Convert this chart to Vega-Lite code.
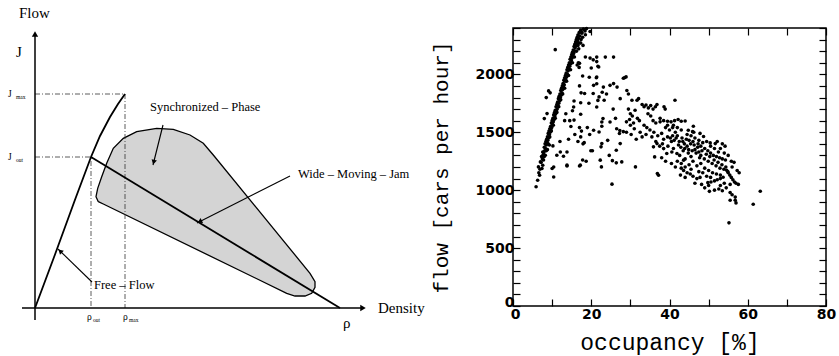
{
"$schema": "https://vega.github.io/schema/vega-lite/v6.json",
"padding": {"left": 8, "top": 5, "right": 2, "bottom": 2},
"background": "white",
"spacing": 98,
"bounds": "flush",
"config": {"view": {"stroke": null}, "font": "Liberation Serif"},
"datasets": {
"axesLines": [{"seg":"y","i":0,"u":0,"v":-12},{"seg":"y","i":1,"u":0,"v":272},{"seg":"x","i":0,"u":-13,"v":0},{"seg":"x","i":1,"u":326,"v":0}],
"guides": [{"seg":"jmax","i":0,"u":0,"v":214},{"seg":"jmax","i":1,"u":90,"v":214},{"seg":"jmax","i":2,"u":90,"v":0},{"seg":"jout","i":0,"u":0,"v":151},{"seg":"jout","i":1,"u":56,"v":151},{"seg":"jout","i":2,"u":56,"v":0}],
"curves": [{"seg":"free","i":0,"u":0,"v":0},{"seg":"free","i":1,"u":20,"v":53.5},{"seg":"free","i":2,"u":40,"v":108.3},{"seg":"free","i":3,"u":56,"v":151},{"seg":"free","i":4,"u":65,"v":172},{"seg":"free","i":5,"u":75,"v":191},{"seg":"free","i":6,"u":83,"v":204},{"seg":"free","i":7,"u":90,"v":214},{"seg":"jam","i":0,"u":56,"v":151},{"seg":"jam","i":1,"u":305,"v":0}],
"blob": [{"i":0,"u":63.3,"v":106.3},{"i":1,"u":61,"v":111.3},{"i":2,"u":62.7,"v":119.7},{"i":3,"u":66.7,"v":131.3},{"i":4,"u":71.7,"v":144.7},{"i":5,"u":78.3,"v":159.7},{"i":6,"u":88.3,"v":169.7},{"i":7,"u":101.7,"v":176.3},{"i":8,"u":121.7,"v":179.7},{"i":9,"u":138.3,"v":178.7},{"i":10,"u":155,"v":173},{"i":11,"u":168.3,"v":164.7},{"i":12,"u":178.3,"v":153},{"i":13,"u":275,"v":34.7},{"i":14,"u":280,"v":26.3},{"i":15,"u":280,"v":20.7},{"i":16,"u":276.7,"v":14.7},{"i":17,"u":270,"v":12},{"i":18,"u":260,"v":12},{"i":19,"u":251.7,"v":14.7},{"i":20,"u":68.3,"v":104},{"i":21,"u":63.3,"v":106.3}],
"arrows": [{"seg":"sync","i":0,"u":128,"v":183},{"seg":"sync","i":1,"u":118,"v":143},{"seg":"jam","i":0,"u":255,"v":132},{"seg":"jam","i":1,"u":162,"v":85},{"seg":"free","i":0,"u":57,"v":26},{"seg":"free","i":1,"u":23,"v":59}],
"heads": [{"name":"sync","u":118.7,"v":145.9},{"name":"jam","u":164.7,"v":86.4},{"name":"free","u":25.2,"v":56.9},{"name":"yaxis","u":0,"v":274},{"name":"xaxis","u":328,"v":0}],
"traffic": [
{"occ":5.9,"flow":1030},{"occ":6.3,"flow":1086},{"occ":6.8,"flow":1129},{"occ":6.5,"flow":1201},{"occ":7.0,"flow":1244},{"occ":7.4,"flow":1187},{"occ":8.25,"flow":1302},{"occ":7.2,"flow":1240},{"occ":7.5,"flow":1270},{"occ":6.9,"flow":1180},{"occ":7.7,"flow":1300},{"occ":7.9,"flow":1330},{"occ":7.3,"flow":1290},{"occ":6.6,"flow":1150},{"occ":7.6,"flow":1215},{"occ":7.8,"flow":1260},{"occ":8.0,"flow":1290},
{"occ":7.6,"flow":1330},{"occ":7.8,"flow":1310},{"occ":8.0,"flow":1370},{"occ":8.1,"flow":1340},{"occ":8.2,"flow":1400},{"occ":8.3,"flow":1360},{"occ":8.4,"flow":1420},{"occ":8.5,"flow":1390},{"occ":8.6,"flow":1440},{"occ":8.7,"flow":1410},{"occ":8.8,"flow":1460},{"occ":8.9,"flow":1430},{"occ":9.0,"flow":1490},{"occ":9.1,"flow":1450},{"occ":9.2,"flow":1510},{"occ":9.3,"flow":1480},{"occ":9.4,"flow":1530},{"occ":9.5,"flow":1500},{"occ":9.6,"flow":1550},{"occ":9.7,"flow":1520},{"occ":9.8,"flow":1580},{"occ":9.9,"flow":1540},{"occ":10.0,"flow":1600},{"occ":10.1,"flow":1570},{"occ":10.2,"flow":1620},{"occ":10.3,"flow":1590},{"occ":10.4,"flow":1650},{"occ":10.5,"flow":1610},{"occ":10.6,"flow":1670},{"occ":10.7,"flow":1640},{"occ":10.8,"flow":1690},{"occ":10.9,"flow":1660},{"occ":11.0,"flow":1720},{"occ":11.1,"flow":1680},{"occ":11.2,"flow":1740},{"occ":11.3,"flow":1700},{"occ":11.4,"flow":1760},{"occ":11.5,"flow":1730},{"occ":11.6,"flow":1790},{"occ":11.7,"flow":1750},{"occ":11.8,"flow":1810},{"occ":11.9,"flow":1770},{"occ":12.0,"flow":1830},{"occ":12.1,"flow":1800},{"occ":12.2,"flow":1860},{"occ":12.3,"flow":1820},{"occ":12.4,"flow":1880},{"occ":12.5,"flow":1840},{"occ":12.6,"flow":1900},{"occ":12.7,"flow":1870},{"occ":12.8,"flow":1920},{"occ":12.9,"flow":1890},{"occ":13.0,"flow":1950},{"occ":13.1,"flow":1910},{"occ":13.2,"flow":1970},{"occ":13.3,"flow":1940},{"occ":13.4,"flow":1990},{"occ":13.5,"flow":1960},{"occ":13.6,"flow":2010},{"occ":13.7,"flow":1980},{"occ":13.8,"flow":2040},{"occ":13.9,"flow":2000},{"occ":14.0,"flow":2060},{"occ":14.1,"flow":2030},{"occ":14.2,"flow":2080},{"occ":14.3,"flow":2050},{"occ":14.4,"flow":2100},{"occ":14.5,"flow":2070},{"occ":14.6,"flow":2130},{"occ":14.7,"flow":2090},{"occ":14.8,"flow":2150},{"occ":14.9,"flow":2120},{"occ":15.0,"flow":2170},{"occ":15.1,"flow":2140},{"occ":15.2,"flow":2190},{"occ":15.3,"flow":2160},{"occ":15.4,"flow":2210},{"occ":15.5,"flow":2180},{"occ":15.6,"flow":2240},{"occ":15.7,"flow":2200},{"occ":15.8,"flow":2260},{"occ":15.9,"flow":2230},{"occ":16.0,"flow":2280},{"occ":16.1,"flow":2250},{"occ":16.2,"flow":2300},{"occ":16.3,"flow":2270},{"occ":16.4,"flow":2320},{"occ":16.5,"flow":2290},{"occ":16.6,"flow":2340},{"occ":16.7,"flow":2310},{"occ":16.9,"flow":2360},{"occ":17.1,"flow":2330},{"occ":17.3,"flow":2380},{"occ":17.6,"flow":2360},{"occ":18.0,"flow":2390},{"occ":18.4,"flow":2375},{"occ":18.8,"flow":2395},
{"occ":8.5,"flow":1340},{"occ":9.0,"flow":1400},{"occ":9.4,"flow":1460},{"occ":9.8,"flow":1510},{"occ":10.3,"flow":1560},{"occ":10.8,"flow":1620},{"occ":11.2,"flow":1670},{"occ":11.7,"flow":1720},{"occ":12.2,"flow":1780},{"occ":12.7,"flow":1830},{"occ":13.2,"flow":1880},{"occ":13.7,"flow":1940},{"occ":14.2,"flow":1990},{"occ":14.7,"flow":2040},{"occ":15.2,"flow":2100},{"occ":15.7,"flow":2150},{"occ":16.2,"flow":2200},{"occ":16.6,"flow":2250},{"occ":17.0,"flow":2270},{"occ":16.8,"flow":2220},{"occ":17.4,"flow":2300},{"occ":17.8,"flow":2320},{"occ":8.8,"flow":1350},{"occ":9.3,"flow":1390},
{"occ":8.0,"flow":1618},{"occ":8.7,"flow":1661},{"occ":9.1,"flow":1857},{"occ":9.5,"flow":1840},{"occ":8.5,"flow":1799},{"occ":10.2,"flow":1382},{"occ":10.8,"flow":2213},{"occ":10.4,"flow":1200},{"occ":10.0,"flow":1187},{"occ":10.4,"flow":1114},{"occ":11.2,"flow":1302},{"occ":12.1,"flow":1330},{"occ":12.9,"flow":1293},{"occ":13.8,"flow":1330},{"occ":13.8,"flow":1209},{"occ":17.0,"flow":1209},{"occ":18.7,"flow":1250},{"occ":19.9,"flow":1340},
{"occ":17.6,"flow":2356},{"occ":18.5,"flow":2342},{"occ":19.7,"flow":2370},{"occ":17.3,"flow":2270},{"occ":17.9,"flow":2250},{"occ":16.7,"flow":2100},{"occ":16.4,"flow":2080},{"occ":17.0,"flow":2095},{"occ":16.9,"flow":2060},{"occ":18.5,"flow":2150},{"occ":19.7,"flow":2140},{"occ":20.5,"flow":2125},{"occ":21.4,"flow":2110},{"occ":20.0,"flow":2055},{"occ":21.7,"flow":2070},{"occ":17.8,"flow":1985},{"occ":19.5,"flow":1975},{"occ":21.3,"flow":1970},{"occ":17.0,"flow":1900},{"occ":17.4,"flow":1840},{"occ":18.3,"flow":1835},{"occ":20.5,"flow":1835},{"occ":15.6,"flow":1770},{"occ":17.3,"flow":1755},{"occ":19.4,"flow":1750},{"occ":15.2,"flow":1685},{"occ":17.3,"flow":1655},{"occ":14.5,"flow":1600},{"occ":15.6,"flow":1605},{"occ":13.2,"flow":1600},{"occ":17.0,"flow":1540},{"occ":17.5,"flow":1510},{"occ":17.3,"flow":1460},{"occ":13.5,"flow":1660},{"occ":15.5,"flow":1718},{"occ":14.8,"flow":1550},{"occ":15.8,"flow":1480},{"occ":16.6,"flow":1420},{"occ":17.9,"flow":1400},{"occ":18.2,"flow":1410},{"occ":17.2,"flow":1216},{"occ":17.8,"flow":1260},{"occ":13.8,"flow":1216},{"occ":12.0,"flow":1420},{"occ":14.2,"flow":1440},
{"occ":21.4,"flow":2149},{"occ":23.6,"flow":2149},{"occ":25.7,"flow":2149},{"occ":21.9,"flow":2063},{"occ":21.4,"flow":1977},{"occ":28.5,"flow":1971},{"occ":28.9,"flow":1978},{"occ":28.2,"flow":1966},{"occ":21.4,"flow":1919},{"occ":23.1,"flow":1890},{"occ":24.8,"flow":1905},{"occ":25.7,"flow":1920},{"occ":26.6,"flow":1890},{"occ":22.8,"flow":1845},{"occ":23.9,"flow":1830},{"occ":22.0,"flow":1805},{"occ":21.7,"flow":1775},{"occ":27.4,"flow":1790},{"occ":29.1,"flow":1860},{"occ":29.5,"flow":1830},{"occ":22.7,"flow":1588},{"occ":24.8,"flow":1588},{"occ":22.0,"flow":1502},{"occ":24.2,"flow":1430},{"occ":26.5,"flow":1530},{"occ":27.3,"flow":1515},{"occ":28.2,"flow":1505},{"occ":29.0,"flow":1500},{"occ":22.5,"flow":1374},{"occ":22.7,"flow":1402},{"occ":22.3,"flow":1259},{"occ":22.6,"flow":1201},{"occ":25.3,"flow":1052},{"occ":26.4,"flow":1345},{"occ":26.4,"flow":1236},{"occ":27.4,"flow":1402},{"occ":27.2,"flow":1489},{"occ":20.6,"flow":1517},{"occ":22.7,"flow":1552},{"occ":23.0,"flow":1618},{"occ":31.3,"flow":1201},{"occ":27.8,"flow":1244},{"occ":19.0,"flow":1540},{"occ":19.6,"flow":1480},{"occ":20.3,"flow":1340},{"occ":24.6,"flow":1300},{"occ":25.4,"flow":1255},{"occ":20.6,"flow":1905},{"occ":23.3,"flow":1776},{"occ":21.4,"flow":1718},{"occ":25.6,"flow":1700},{"occ":26.2,"flow":1620},
{"occ":30.4,"flow":1776},{"occ":31.7,"flow":1776},{"occ":32.1,"flow":1790},{"occ":33.0,"flow":1740},{"occ":33.5,"flow":1720},{"occ":34.0,"flow":1735},{"occ":34.6,"flow":1710},{"occ":35.2,"flow":1730},{"occ":35.8,"flow":1700},{"occ":36.4,"flow":1720},{"occ":36.8,"flow":1740},{"occ":29.5,"flow":1700},{"occ":30.0,"flow":1660},{"occ":30.5,"flow":1640},{"occ":31.2,"flow":1690},{"occ":31.8,"flow":1620},{"occ":32.3,"flow":1600},{"occ":30.8,"flow":1580},{"occ":29.8,"flow":1610},{"occ":34.5,"flow":1660},{"occ":35.2,"flow":1640},{"occ":35.8,"flow":1600},{"occ":36.5,"flow":1580},{"occ":37.6,"flow":1620},{"occ":33.5,"flow":1560},{"occ":34.2,"flow":1540},{"occ":35.0,"flow":1520},{"occ":38.6,"flow":1720},{"occ":38.9,"flow":1700},{"occ":41.4,"flow":1776},{"occ":37.6,"flow":1590},{"occ":38.5,"flow":1600},{"occ":39.5,"flow":1595},{"occ":40.4,"flow":1590},{"occ":41.3,"flow":1600},{"occ":42.2,"flow":1610},{"occ":43.0,"flow":1595},{"occ":32.5,"flow":1500},{"occ":33.0,"flow":1460},{"occ":31.5,"flow":1440},{"occ":30.2,"flow":1480},{"occ":34.0,"flow":1480},{"occ":36.0,"flow":1500},{"occ":35.5,"flow":1460},{"occ":37.0,"flow":1470},{"occ":38.0,"flow":1490},{"occ":36.5,"flow":1420},{"occ":38.5,"flow":1440},{"occ":39.5,"flow":1460},{"occ":40.0,"flow":1520},{"occ":39.0,"flow":1540},{"occ":40.8,"flow":1540},{"occ":41.5,"flow":1500},{"occ":42.0,"flow":1470},{"occ":37.5,"flow":1380},{"occ":38.2,"flow":1400},{"occ":39.6,"flow":1380},{"occ":40.5,"flow":1420},{"occ":41.0,"flow":1360},{"occ":42.5,"flow":1420},{"occ":43.2,"flow":1450},{"occ":43.8,"flow":1400},{"occ":44.5,"flow":1380},{"occ":45.0,"flow":1430},{"occ":46.0,"flow":1420},{"occ":35.9,"flow":1374},{"occ":36.8,"flow":1402},{"occ":38.5,"flow":1359},{"occ":39.3,"flow":1316},{"occ":40.6,"flow":1330},{"occ":41.9,"flow":1316},{"occ":43.6,"flow":1259},{"occ":42.6,"flow":1300},{"occ":43.5,"flow":1340},{"occ":44.8,"flow":1320},{"occ":45.5,"flow":1290},{"occ":46.5,"flow":1350},{"occ":47.5,"flow":1330},{"occ":48.0,"flow":1300},{"occ":30.0,"flow":1560},{"occ":29.0,"flow":1590},{"occ":31.0,"flow":1530},{"occ":36.9,"flow":1144},{"occ":37.2,"flow":1129},{"occ":36.2,"flow":1287},
{"occ":44.0,"flow":1597},{"occ":46.1,"flow":1552},{"occ":44.8,"flow":1517},{"occ":45.9,"flow":1505},{"occ":48.7,"flow":1463},{"occ":51.7,"flow":1402},{"occ":50.4,"flow":1408},{"occ":47.3,"flow":1400},{"occ":48.0,"flow":1380},{"occ":49.0,"flow":1360},{"occ":49.8,"flow":1340},{"occ":50.5,"flow":1320},{"occ":51.2,"flow":1300},{"occ":52.0,"flow":1290},{"occ":52.8,"flow":1280},{"occ":53.5,"flow":1270},{"occ":54.3,"flow":1260},{"occ":52.5,"flow":1330},{"occ":53.0,"flow":1360},{"occ":54.0,"flow":1320},{"occ":54.6,"flow":1172},{"occ":55.0,"flow":1150},{"occ":55.4,"flow":1130},{"occ":55.8,"flow":1110},{"occ":56.2,"flow":1090},{"occ":56.6,"flow":1070},{"occ":57.0,"flow":1060},{"occ":57.6,"flow":1050},{"occ":53.7,"flow":1112},{"occ":53.0,"flow":1100},{"occ":52.2,"flow":1090},{"occ":51.5,"flow":1080},{"occ":50.6,"flow":1070},{"occ":49.8,"flow":1065},{"occ":43.6,"flow":1170},{"occ":44.5,"flow":1150},{"occ":45.3,"flow":1140},{"occ":42.8,"flow":1130},{"occ":44.0,"flow":1110},{"occ":46.0,"flow":1120},{"occ":47.0,"flow":1100},{"occ":47.8,"flow":1110},{"occ":49.0,"flow":1020},{"occ":50.2,"flow":990},{"occ":51.5,"flow":1000},{"occ":52.6,"flow":1010},{"occ":53.5,"flow":995},{"occ":54.5,"flow":1020},{"occ":55.5,"flow":980},{"occ":56.0,"flow":960},{"occ":55.5,"flow":913},{"occ":56.8,"flow":913},{"occ":57.0,"flow":890},{"occ":56.8,"flow":940},{"occ":61.4,"flow":879},{"occ":63.2,"flow":991},{"occ":55.2,"flow":718},{"occ":50.0,"flow":1040},{"occ":48.2,"flow":1050},{"occ":46.5,"flow":1060},
{"occ":40.2,"flow":1450},{"occ":40.8,"flow":1470},{"occ":41.2,"flow":1430},{"occ":41.7,"flow":1450},{"occ":42.3,"flow":1390},{"occ":42.9,"flow":1370},{"occ":43.4,"flow":1420},{"occ":43.9,"flow":1360},{"occ":44.3,"flow":1440},{"occ":44.9,"flow":1350},{"occ":45.4,"flow":1400},{"occ":45.8,"flow":1340},{"occ":46.3,"flow":1390},{"occ":46.8,"flow":1320},{"occ":47.2,"flow":1370},{"occ":47.7,"flow":1280},{"occ":48.3,"flow":1340},{"occ":48.9,"flow":1270},{"occ":49.4,"flow":1310},{"occ":49.9,"flow":1250},{"occ":50.3,"flow":1290},{"occ":50.9,"flow":1230},{"occ":51.4,"flow":1260},{"occ":51.9,"flow":1210},{"occ":52.4,"flow":1240},{"occ":52.9,"flow":1190},{"occ":53.4,"flow":1220},{"occ":53.9,"flow":1180},{"occ":54.4,"flow":1200},{"occ":54.9,"flow":1160},{"occ":42.0,"flow":1250},{"occ":43.0,"flow":1230},{"occ":44.0,"flow":1270},{"occ":45.0,"flow":1220},{"occ":46.0,"flow":1250},{"occ":47.0,"flow":1210},{"occ":48.0,"flow":1230},{"occ":49.0,"flow":1190},{"occ":50.0,"flow":1170},{"occ":51.0,"flow":1150},{"occ":52.0,"flow":1140},{"occ":53.0,"flow":1130},{"occ":44.5,"flow":1480},{"occ":45.5,"flow":1470},{"occ":46.5,"flow":1450},{"occ":47.5,"flow":1430},{"occ":48.5,"flow":1410},{"occ":49.5,"flow":1420},{"occ":46.2,"flow":1500},{"occ":47.8,"flow":1490},{"occ":43.0,"flow":1520},{"occ":42.0,"flow":1540},{"occ":41.0,"flow":1560},{"occ":39.5,"flow":1560},{"occ":50.5,"flow":1380},{"occ":51.5,"flow":1360},{"occ":52.2,"flow":1420},{"occ":53.5,"flow":1400},{"occ":54.2,"flow":1380},{"occ":55.0,"flow":1300},{"occ":55.8,"flow":1250},{"occ":56.5,"flow":1240},{"occ":56.0,"flow":1200},{"occ":57.3,"flow":1170},{"occ":57.8,"flow":1150},{"occ":55.5,"flow":1050},{"occ":54.0,"flow":1060},{"occ":53.0,"flow":1040},{"occ":48.5,"flow":1150},{"occ":47.5,"flow":1160},{"occ":49.5,"flow":1120},{"occ":50.5,"flow":1110},{"occ":45.5,"flow":1180},{"occ":44.0,"flow":1200},{"occ":43.0,"flow":1190},{"occ":41.5,"flow":1200},{"occ":40.5,"flow":1230},{"occ":39.0,"flow":1250},{"occ":38.0,"flow":1280}
]
},
"hconcat": [
{
"width": 380, "height": 280,
"encoding": {
 "x": {"field":"u","type":"quantitative","scale":{"domain":[0,380],"nice":false,"zero":false},"axis":null},
 "y": {"field":"v","type":"quantitative","scale":{"domain":[0,280],"nice":false,"zero":false},"axis":null}
},
"layer": [
 {"data":{"name":"blob"},"mark":{"type":"line","fill":"#d4d4d4","stroke":"black","strokeWidth":1.3},"encoding":{"order":{"field":"i","type":"quantitative"}}},
 {"data":{"name":"guides"},"mark":{"type":"line","stroke":"#333333","strokeWidth":0.8,"strokeDash":[5,2,1,2]},"encoding":{"detail":{"field":"seg","type":"nominal"},"order":{"field":"i","type":"quantitative"}}},
 {"data":{"name":"axesLines"},"mark":{"type":"line","stroke":"black","strokeWidth":1.5},"encoding":{"detail":{"field":"seg","type":"nominal"},"order":{"field":"i","type":"quantitative"}}},
 {"data":{"name":"curves"},"mark":{"type":"line","stroke":"black","strokeWidth":1.8},"encoding":{"detail":{"field":"seg","type":"nominal"},"order":{"field":"i","type":"quantitative"}}},
 {"data":{"name":"arrows"},"mark":{"type":"line","stroke":"black","strokeWidth":1.1},"encoding":{"detail":{"field":"seg","type":"nominal"},"order":{"field":"i","type":"quantitative"}}},
 {"data":{"name":"heads"},"transform":[{"filter":"datum.name == 'sync'"}],"mark":{"type":"point","shape":"triangle-up","filled":true,"color":"black","size":30,"angle":194,"opacity":1}},
 {"data":{"name":"heads"},"transform":[{"filter":"datum.name == 'jam'"}],"mark":{"type":"point","shape":"triangle-up","filled":true,"color":"black","size":30,"angle":243,"opacity":1}},
 {"data":{"name":"heads"},"transform":[{"filter":"datum.name == 'free'"}],"mark":{"type":"point","shape":"triangle-up","filled":true,"color":"black","size":30,"angle":314,"opacity":1}},
 {"data":{"name":"heads"},"transform":[{"filter":"datum.name == 'yaxis'"}],"mark":{"type":"point","shape":"triangle-up","filled":true,"color":"black","size":40,"angle":0,"opacity":1}},
 {"data":{"name":"heads"},"transform":[{"filter":"datum.name == 'xaxis'"}],"mark":{"type":"point","shape":"triangle-up","filled":true,"color":"black","size":40,"angle":90,"opacity":1}},
 {"data":{"values":[{"t":"Flow","u":-16,"v":290},{"t":"J","u":-19,"v":251},{"t":"Density","u":343,"v":-5},{"t":"ρ","u":308,"v":-20}]},"mark":{"type":"text","font":"Liberation Serif","fontSize":15,"align":"left","baseline":"alphabetic","color":"black"},"encoding":{"text":{"field":"t","type":"nominal"}}},
 {"data":{"values":[{"t":"Synchronized – Phase","u":115,"v":197},{"t":"Wide – Moving – Jam","u":263,"v":130},{"t":"Free – Flow","u":59,"v":19}]},"mark":{"type":"text","font":"Liberation Serif","fontSize":12.5,"align":"left","baseline":"alphabetic","color":"black"},"encoding":{"text":{"field":"t","type":"nominal"}}},
 {"data":{"values":[{"t":"J","u":-27,"v":211},{"t":"J","u":-27,"v":148},{"t":"ρ","u":52,"v":-12},{"t":"ρ","u":88,"v":-12}]},"mark":{"type":"text","font":"Liberation Serif","fontSize":9.5,"align":"left","baseline":"alphabetic","color":"black"},"encoding":{"text":{"field":"t","type":"nominal"}}},
 {"data":{"values":[{"t":"max","u":-19,"v":209},{"t":"out","u":-19,"v":146},{"t":"out","u":58,"v":-14},{"t":"max","u":94,"v":-14}]},"mark":{"type":"text","font":"Liberation Serif","fontSize":5.5,"align":"left","baseline":"alphabetic","color":"black"},"encoding":{"text":{"field":"t","type":"nominal"}}}
]
},
{
"width": 313, "height": 278,
"view": {"stroke": "black", "strokeWidth": 1.5},
"data": {"name": "traffic"},
"layer": [
 {"mark":{"type":"point","filled":true,"shape":"circle","size":13,"color":"black","opacity":1},
  "encoding":{
   "x":{"field":"occ","type":"quantitative","scale":{"domain":[0,80],"nice":false},
        "axis":{"orient":"bottom","values":[0,10,20,30,40,50,60,70,80],"labelExpr":"datum.value % 20 == 0 ? datum.label : ''","tickSize":-7,"tickColor":"black","tickWidth":1.2,"domain":false,"grid":false,"labelFont":"DejaVu Sans","labelFontWeight":"bold","labelFontSize":14,"labelColor":"black","labelPadding":8,"labelFlush":false,"labelOverlap":false,"labelOffset":{"condition":{"test":"datum.value == 0","value":2},"value":0},"title":"occupancy [%]","titleFont":"Liberation Mono","titleFontSize":23,"titleFontWeight":"normal","titleColor":"black","titlePadding":10}},
   "y":{"field":"flow","type":"quantitative","scale":{"domain":[0,2400],"nice":false},
        "axis":{"orient":"left","values":[0,100,200,300,400,500,600,700,800,900,1000,1100,1200,1300,1400,1500,1600,1700,1800,1900,2000,2100,2200,2300,2400],"format":"d","labelExpr":"datum.value % 500 == 0 ? datum.label : ''","tickSize":-7,"tickColor":"black","tickWidth":1.2,"domain":false,"grid":false,"labelFont":"DejaVu Sans","labelFontWeight":"bold","labelFontSize":14,"labelColor":"black","labelPadding":6,"labelFlush":false,"labelOverlap":false,"labelOffset":{"condition":{"test":"datum.value == 0","value":-4},"value":0},"title":"flow [cars per hour]","titleFont":"Liberation Mono","titleFontSize":21,"titleFontWeight":"normal","titleColor":"black","titlePadding":24}}
  }},
 {"mark":{"type":"point","opacity":0},
  "encoding":{
   "x":{"field":"occ","type":"quantitative","axis":{"orient":"top","values":[0,10,20,30,40,50,60,70,80],"labels":false,"title":null,"tickSize":-7,"tickColor":"black","tickWidth":1.2,"domain":false,"grid":false}},
   "y":{"field":"flow","type":"quantitative","axis":{"orient":"right","values":[0,100,200,300,400,500,600,700,800,900,1000,1100,1200,1300,1400,1500,1600,1700,1800,1900,2000,2100,2200,2300,2400],"labels":false,"title":null,"tickSize":-7,"tickColor":"black","tickWidth":1.2,"domain":false,"grid":false}}
  }}
],
"resolve": {"axis": {"x": "independent", "y": "independent"}}
}
]
}
